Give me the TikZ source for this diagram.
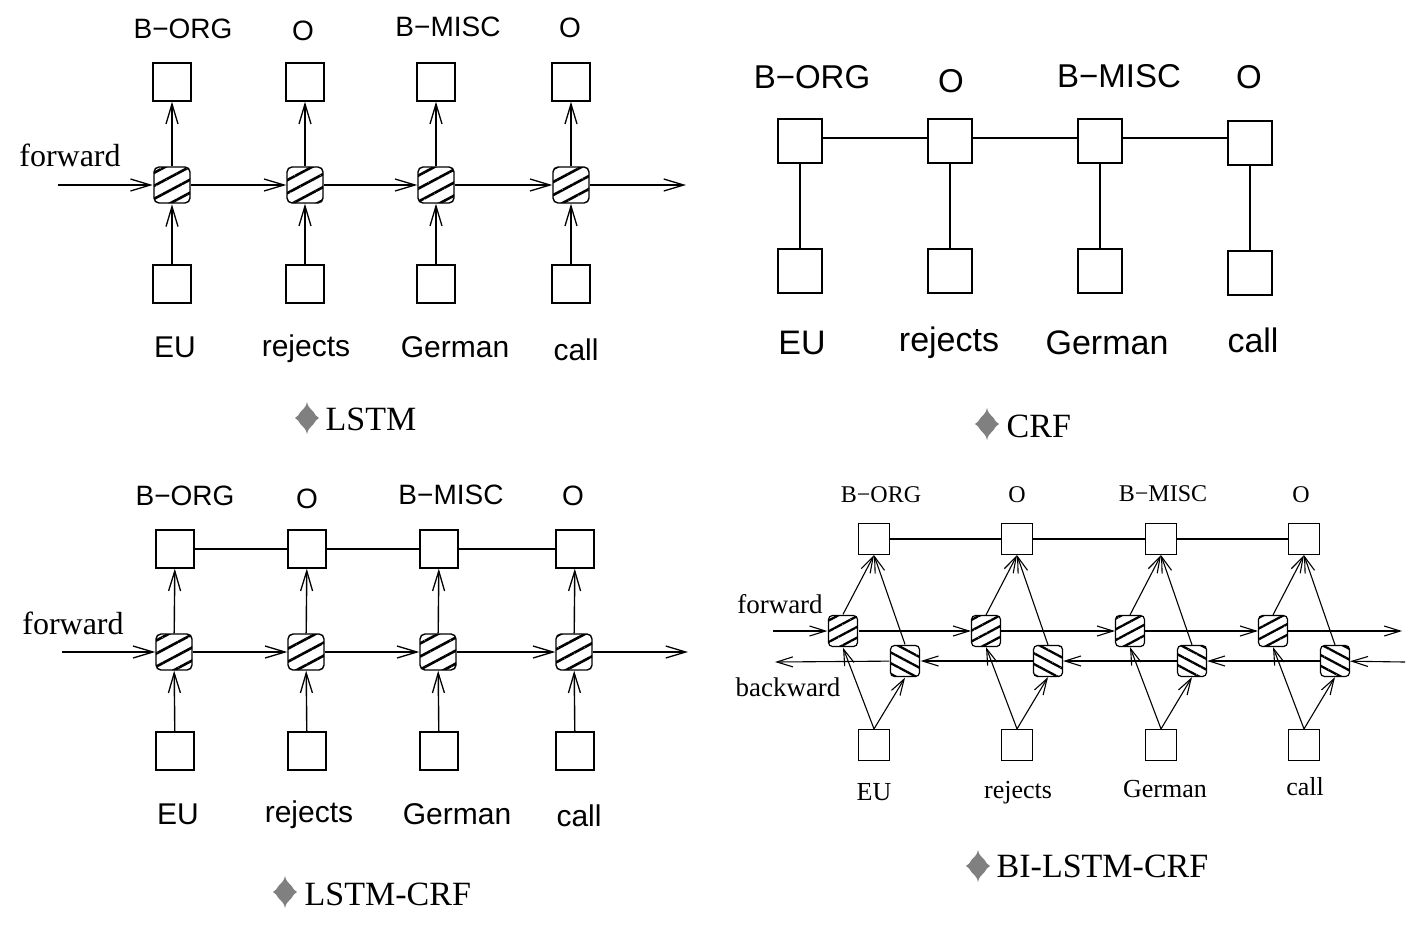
\documentclass[tikz,border=0pt]{standalone}
\usepackage{fontspec}
\setmainfont{Liberation Serif}
\newfontfamily\lsans{Liberation Sans}
\usetikzlibrary{arrows.meta,patterns.meta}
\definecolor{bulletgray}{RGB}{128,128,128}
\begin{document}
\begin{tikzpicture}[x=1pt,y=-1pt,
  line width=1.4pt,
  box/.style={draw, line width=1.4pt, minimum size=38pt, inner sep=0pt},
  bigbox/.style={box, minimum size=44pt},
  smallbox/.style={draw, line width=1.2pt, minimum size=31pt, inner sep=0pt},
  cell/.style={draw, line width=1.4pt, rounded corners=5pt, minimum size=36pt, inner sep=0pt,
    pattern={Lines[angle=28,distance=11.5pt,line width=2.6pt]}},
  fcell/.style={draw, line width=1.2pt, rounded corners=4pt, minimum width=29pt, minimum height=31pt, inner sep=0pt,
    pattern={Lines[angle=28,distance=9.5pt,line width=2.3pt]}},
  bcell/.style={fcell, pattern={Lines[angle=-28,distance=9.5pt,line width=2.3pt]}},
  arr/.style={-{Straight Barb[length=20pt,width=12pt,line width=1.3pt]}},
  sarr/.style={line width=1.1pt,-{Straight Barb[length=16pt,width=10pt,line width=1.1pt]}},
  lab/.style={anchor=base, inner sep=0pt, font=\lsans\fontsize{28}{30}\selectfont},
  word/.style={anchor=base, inner sep=0pt, font=\lsans\fontsize{30}{32}\selectfont},
  labB/.style={anchor=base, inner sep=0pt, font=\lsans\fontsize{33}{35}\selectfont},
  wordB/.style={anchor=base, inner sep=0pt, font=\lsans\fontsize{34}{36}\selectfont},
  labD/.style={anchor=base, inner sep=0pt, font=\fontsize{24}{26}\selectfont},
  wordD/.style={anchor=base, inner sep=0pt, font=\fontsize{26}{28}\selectfont},
  side/.style={anchor=base, inner sep=0pt, font=\fontsize{32}{34}\selectfont},
  sideD/.style={anchor=base, inner sep=0pt, font=\fontsize{27}{29}\selectfont},
  caption/.style={anchor=base west, inner sep=0pt, font=\fontsize{34}{36}\selectfont},
  star4/.pic={\fill[bulletgray] (0,-16)
     .. controls (0.6,-11) and (4,-9) .. (6.3,-6.3) .. controls (8.5,-4) and (9,-0.6) .. (12,0)
     .. controls (9,0.6) and (8.5,4) .. (6.3,6.3) .. controls (4,9) and (0.6,11) .. (0,16)
     .. controls (-0.6,11) and (-4,9) .. (-6.3,6.3) .. controls (-8.5,4) and (-9,0.6) .. (-12,0)
     .. controls (-9,-0.6) and (-8.5,-4) .. (-6.3,-6.3) .. controls (-4,-9) and (-0.6,-11) .. (0,-16) -- cycle;}
]
\fill[white] (0,0) rectangle (1423,932);
\useasboundingbox (0,0) rectangle (1423,932);

% ---------------- Panel 1: LSTM ----------------
\foreach \i/\x in {1/172,2/305,3/436,4/571} {
  \node[box] (At\i) at (\x,82) {};
  \node[cell] (Ah\i) at (\x,185) {};
  \node[box] (Ab\i) at (\x,284) {};
  \draw[arr] (Ah\i) -- (At\i);
  \draw[arr] (Ab\i) -- (Ah\i);
}
\coordinate (Ain) at (58,185);
\coordinate (Aout) at (686,185);
\draw[arr] (Ain) -- (Ah1);
\draw[arr] (Ah1) -- (Ah2);
\draw[arr] (Ah2) -- (Ah3);
\draw[arr] (Ah3) -- (Ah4);
\draw[arr] (Ah4) -- (Aout);
\node[lab] (Al1) at (183,38) {B−ORG};
\node[lab] (Al2) at (303,40) {O};
\node[lab] (Al3) at (448,36) {B−MISC};
\node[lab] (Al4) at (570,37) {O};
\node[word] (Aw1) at (175,357) {EU};
\node[word] (Aw2) at (306,356) {rejects};
\node[word] (Aw3) at (455,357) {German};
\node[word] (Aw4) at (576,360) {call};
\node[side] (Afw) at (70,166) {forward};
\pic at (307,418) {star4};
\node[caption] (Acap) at (325,430) {LSTM};

% ---------------- Panel 2: CRF ----------------
\foreach \i/\x/\y in {1/800/141,2/950/141,3/1100/141,4/1250/143} {
  \node[bigbox] (Bt\i) at (\x,\y) {};
  \node[bigbox] (Bb\i) at (\x,\y+130) {};
  \draw (Bt\i) -- (Bb\i);
}
\draw (Bt1.east |- 0,138) -- (Bt2.west |- 0,138);
\draw (Bt2.east |- 0,138) -- (Bt3.west |- 0,138);
\draw (Bt3.east |- 0,138) -- (Bt4.west |- 0,138);
\node[labB] (Bl1) at (812,88) {B−ORG};
\node[labB] (Bl2) at (951,92) {O};
\node[labB] (Bl3) at (1119,87) {B−MISC};
\node[labB] (Bl4) at (1249,88) {O};
\node[wordB] (Bw1) at (802,354) {EU};
\node[wordB] (Bw2) at (949,351) {rejects};
\node[wordB] (Bw3) at (1107,354) {German};
\node[wordB] (Bw4) at (1253,352) {call};
\pic at (987,424) {star4};
\node[caption] (Bcap) at (1006,437) {CRF};

% ---------------- Panel 3: LSTM-CRF ----------------
\foreach \i/\x in {1/175,2/307,3/439,4/575} {
  \node[box] (Ct\i) at (\x,549) {};
  \node[cell] (Ch\i) at (\x-1,652) {};
  \node[box] (Cb\i) at (\x,751) {};
  \draw[arr] (Ch\i) -- (Ct\i);
  \draw[arr] (Cb\i) -- (Ch\i);
}
\draw (Ct1) -- (Ct2);
\draw (Ct2) -- (Ct3);
\draw (Ct3) -- (Ct4);
\coordinate (Cin) at (62,652);
\coordinate (Cout) at (688,652);
\draw[arr] (Cin) -- (Ch1);
\draw[arr] (Ch1) -- (Ch2);
\draw[arr] (Ch2) -- (Ch3);
\draw[arr] (Ch3) -- (Ch4);
\draw[arr] (Ch4) -- (Cout);
\node[lab] (Cl1) at (185,505) {B−ORG};
\node[lab] (Cl2) at (307,508) {O};
\node[lab] (Cl3) at (451,504) {B−MISC};
\node[lab] (Cl4) at (573,505) {O};
\node[word] (Cw1) at (178,824) {EU};
\node[word] (Cw2) at (309,822) {rejects};
\node[word] (Cw3) at (457,824) {German};
\node[word] (Cw4) at (579,826) {call};
\node[side] (Cfw) at (73,634) {forward};
\pic at (285,892) {star4};
\node[caption] (Ccap) at (304,905) {LSTM-CRF};

% ---------------- Panel 4: BI-LSTM-CRF ----------------
\foreach \i/\x in {1/874,2/1017,3/1161,4/1304} {
  \node[smallbox] (Dt\i) at (\x,539) {};
  \node[fcell] (Df\i) at (\x-31,631) {};
  \node[bcell] (Dw\i) at (\x+31,661) {};
  \node[smallbox] (Db\i) at (\x,745) {};
  \draw[sarr] (Df\i.north) -- (Dt\i.south);
  \draw[sarr] (Dw\i.north) -- (Dt\i.south);
  \draw[sarr] (Db\i.north) -- (Df\i.south);
  \draw[sarr] (Db\i.north) -- (Dw\i.south);
}
\draw[line width=1.1pt] (Dt1) -- (Dt2);
\draw[line width=1.1pt] (Dt2) -- (Dt3);
\draw[line width=1.1pt] (Dt3) -- (Dt4);
\coordinate (Dfin) at (773,631);
\coordinate (Dfout) at (1402,631);
\coordinate (Dbin) at (1405,662);
\coordinate (Dbout) at (775,662);
\draw[sarr] (Dfin) -- (Df1);
\draw[sarr] (Df1) -- (Df2);
\draw[sarr] (Df2) -- (Df3);
\draw[sarr] (Df3) -- (Df4);
\draw[sarr] (Df4) -- (Dfout);
\draw[sarr] (Dbin) -- (Dw4);
\draw[sarr] (Dw4) -- (Dw3);
\draw[sarr] (Dw3) -- (Dw2);
\draw[sarr] (Dw2) -- (Dw1);
\draw[sarr] (Dw1) -- (Dbout);
\node[labD] (Dl1) at (881,502) {B−ORG};
\node[labD] (Dl2) at (1017,502) {O};
\node[labD] (Dl3) at (1163,501) {B−MISC};
\node[labD] (Dl4) at (1301,502) {O};
\node[wordD] (Dw1t) at (874,800) {EU};
\node[wordD] (Dw2t) at (1018,798) {rejects};
\node[wordD] (Dw3t) at (1165,797) {German};
\node[wordD] (Dw4t) at (1305,795) {call};
\node[sideD] (Dfw) at (780,613) {forward};
\node[sideD] (Dbw) at (788,696) {backward};
\pic at (978,866) {star4};
\node[caption] (Dcap) at (996,877) {BI-LSTM-CRF};
\end{tikzpicture}
\end{document}
